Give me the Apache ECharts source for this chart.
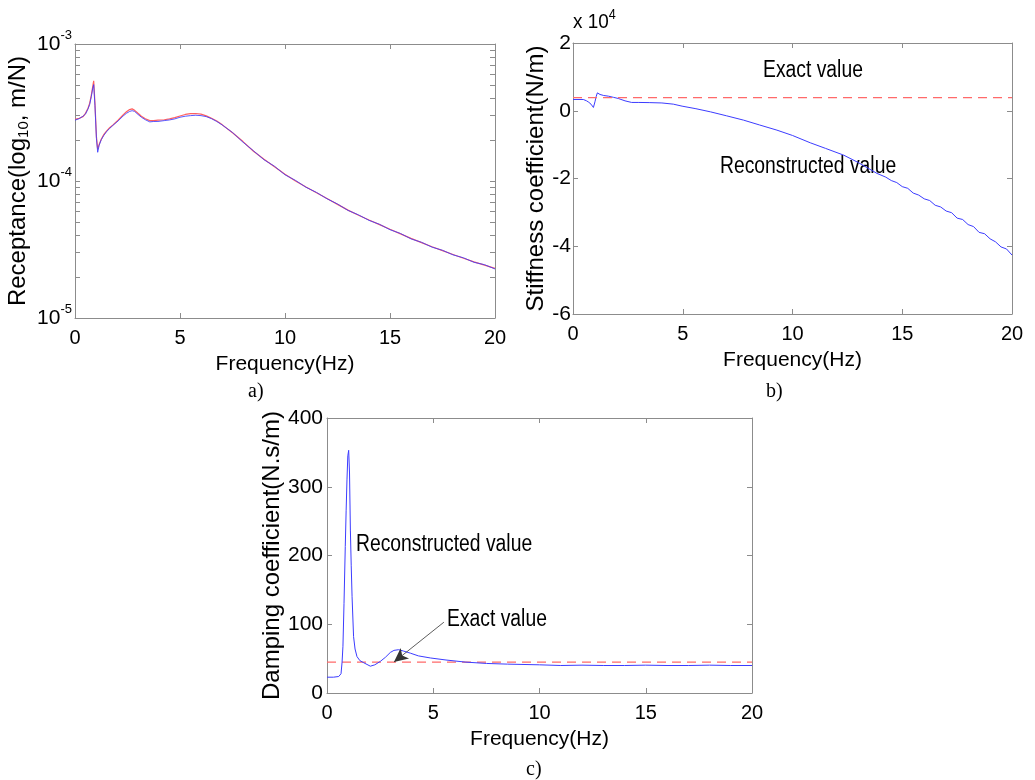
<!DOCTYPE html>
<html>
<head>
<meta charset="utf-8">
<script src="https://cdn.jsdelivr.net/npm/echarts@6/dist/echarts.min.js"></script>
<style>
html,body{margin:0;padding:0;background:#fff;}
#chart{width:1035px;height:780px;}
</style>
</head>
<body>
<div id="chart"></div>
<script>
// ---------- DATA ----------
// Panel a) Receptance (m/N) vs Frequency (Hz)
const freqA = [0,0.2,0.38,0.5,0.62,0.7,0.78,0.84,0.89,0.95,1.02,1.08,1.15,1.25,1.37,1.49,1.65,1.81,2.05,2.29,2.45,2.6,2.72,2.84,3.0,3.16,3.35,3.56,3.75,3.95,4.25,4.5,4.75,5.0,5.25,5.5,5.75,6.0,6.25,6.5,6.75,7.0,7.5,8.0,8.5,9.0,9.5,10,10.5,11,11.5,12,12.5,13,13.5,14,14.5,15,15.5,16,16.5,17,17.5,18,18.5,19,19.5,20];
const receptanceExact = [2.82e-4,2.87e-4,2.95e-4,3.12e-4,3.40e-4,3.70e-4,4.26e-4,4.85e-4,5.39e-4,3.70e-4,2.11e-4,1.70e-4,1.85e-4,2.02e-4,2.18e-4,2.30e-4,2.45e-4,2.57e-4,2.78e-4,3.04e-4,3.20e-4,3.32e-4,3.36e-4,3.28e-4,3.12e-4,2.97e-4,2.85e-4,2.76e-4,2.76e-4,2.78e-4,2.80e-4,2.84e-4,2.90e-4,2.98e-4,3.06e-4,3.10e-4,3.11e-4,3.08e-4,2.99e-4,2.87e-4,2.74e-4,2.58e-4,2.25e-4,1.94e-4,1.65e-4,1.44e-4,1.27e-4,1.12e-4,1.00e-4,9.05e-5,8.20e-5,7.45e-5,6.75e-5,6.13e-5,5.63e-5,5.19e-5,4.80e-5,4.44e-5,4.11e-5,3.81e-5,3.55e-5,3.31e-5,3.10e-5,2.91e-5,2.73e-5,2.57e-5,2.43e-5,2.30e-5];
const receptanceRecon = [2.78e-4,2.85e-4,2.97e-4,3.08e-4,3.36e-4,3.62e-4,4.15e-4,4.70e-4,5.05e-4,3.55e-4,2.05e-4,1.62e-4,1.82e-4,2.00e-4,2.15e-4,2.28e-4,2.42e-4,2.55e-4,2.74e-4,2.98e-4,3.12e-4,3.22e-4,3.26e-4,3.22e-4,3.06e-4,2.92e-4,2.80e-4,2.70e-4,2.72e-4,2.72e-4,2.76e-4,2.79e-4,2.84e-4,2.92e-4,2.97e-4,3.00e-4,3.02e-4,3.00e-4,2.95e-4,2.85e-4,2.72e-4,2.57e-4,2.26e-4,1.92e-4,1.66e-4,1.43e-4,1.28e-4,1.11e-4,1.01e-4,9.00e-5,8.25e-5,7.42e-5,6.79e-5,6.10e-5,5.66e-5,5.16e-5,4.83e-5,4.41e-5,4.14e-5,3.78e-5,3.57e-5,3.29e-5,3.12e-5,2.89e-5,2.75e-5,2.55e-5,2.45e-5,2.28e-5];

// Panel b) Stiffness coefficient (N/m)
const freqB = [0,0.47,0.62,0.72,0.82,0.93,1.0,1.06,1.11,1.23,1.4,1.61,1.85,2.06,2.37,2.67,3.0,3.5,4.05,4.57,4.97,5.6,6.26,7.0,7.77,8.5,9.29,10.0,10.81,11.5,12.33,13.0,13.85,14.25,14.5,14.75,15.0,15.25,15.5,15.75,16.0,16.25,16.5,16.75,17.0,17.25,17.5,17.75,18.0,18.25,18.5,18.75,19.0,19.25,19.5,19.75,20];
const stiffnessRecon = [3330,3330,2920,2500,1950,970,2630,4300,5280,4810,4500,4310,3950,3630,2920,2450,2450,2400,2300,1950,1360,600,-320,-1500,-2770,-4200,-5720,-7300,-9460,-11100,-13100,-15300,-18500,-19600,-20600,-21200,-22400,-22900,-24300,-24900,-26000,-26500,-27900,-28400,-29600,-30100,-31700,-32100,-33600,-34200,-35900,-36300,-37800,-38700,-40200,-40800,-42600];
const stiffnessExact = 3900;

// Panel c) Damping coefficient (N.s/m)
const freqC = [0,0.3,0.55,0.66,0.71,0.75,0.8,0.86,0.9,0.94,0.98,1.02,1.06,1.10,1.14,1.18,1.25,1.32,1.41,1.55,1.73,2.04,2.25,2.51,2.75,2.98,3.15,3.37,3.6,3.92,4.3,4.86,5.6,6.5,7.5,8.5,10,11,12,13,14,15,16,17,18,19,20];
const dampingRecon = [23,23,24,28,45,68,130,213,265,310,345,353,320,237,185,140,82,64,53,47,44,39,41,46,52,59,62,63,61,58,54,51,48,45,43,42,41,40,40.5,40,40,40.5,40,40,40.5,40,40];
const dampingExact = 45;

const xTicks = [0,5,10,15,20];
const yTicksB = [-6,-4,-2,0,2];      // x 10^4
const yTicksC = [0,100,200,300,400];

// ---------- STYLE ----------
const REG = "'Liberation Sans',Arial,sans-serif";
const SERIF = "'Liberation Serif','Times New Roman',serif";
const AX = '#8c8c8c';
const BLUE = '#3c3cff';
const RED = '#ff6060';

const logTicks = [];
for (let e = -5; e < -2; e++) for (let m = 1; m < 10; m++) { if (e === -3 && m > 1) break; logTicks.push(m * Math.pow(10, e)); }

const grids = [
  {left:75, top:44, width:420, height:274},
  {left:573, top:43, width:439, height:271},
  {left:327, top:418, width:425, height:275}
];

const xAxes = [], yAxes = [];
function addX(g, main) {
  xAxes.push({
    type:'value', gridIndex:g, min:xTicks[0], max:xTicks[xTicks.length-1], interval:xTicks[1]-xTicks[0],
    position: main ? 'bottom' : 'top',
    name: main ? 'Frequency(Hz)' : '', nameLocation:'middle', nameGap:36,
    nameTextStyle:{fontFamily:REG, fontSize:21, color:'#000'},
    axisLine:{show:true, onZero:false, lineStyle:{color:AX, width:1}},
    axisTick:{show:true, inside:true, length:5, lineStyle:{color:AX}},
    axisLabel:{show:main, fontFamily:REG, fontSize:20, color:'#000', margin:10},
    splitLine:{show:false}
  });
}
addX(0,true); addX(0,false); addX(1,true); addX(1,false); addX(2,true); addX(2,false);

// panel a y axes (log)
function addYA(main) {
  yAxes.push({
    type:'log', logBase:10, gridIndex:0, min:1e-5, max:1e-3, position: main ? 'left':'right',
    name: main ? '{n|Receptance(log}{s|10}{n|, m/N)}' : '', nameLocation:'middle', nameGap:44,
    nameTextStyle:{rich:{n:{fontFamily:REG, fontSize:24, color:'#000'}, s:{fontFamily:REG, fontSize:15, color:'#000', padding:[10,0,0,0]}}},
    axisLine:{show:true, onZero:false, lineStyle:{color:AX, width:1}},
    axisTick:{show:true, inside:true, length:5, lineStyle:{color:AX}, customValues:logTicks},
    axisLabel:{show:main, margin:3, customValues:[1e-5,1e-4,1e-3],
      formatter: v => '{b|10}{s|' + Math.round(Math.log10(v)) + '}',
      rich:{b:{fontFamily:REG, fontSize:21, color:'#000'}, s:{fontFamily:REG, fontSize:13, color:'#000', padding:[0,0,18,0]}}},
    splitLine:{show:false}, minorTick:{show:false}
  });
}
addYA(true); addYA(false);

function addYB(main) {
  yAxes.push({
    type:'value', gridIndex:1, min:yTicksB[0]*1e4, max:yTicksB[yTicksB.length-1]*1e4, interval:(yTicksB[1]-yTicksB[0])*1e4,
    position: main ? 'left':'right',
    name: main ? 'Stiffness coefficient(N/m)' : '', nameLocation:'middle', nameGap:16,
    nameTextStyle:{fontFamily:REG, fontSize:24, color:'#000'},
    axisLine:{show:true, onZero:false, lineStyle:{color:AX, width:1}},
    axisTick:{show:true, inside:true, length:5, lineStyle:{color:AX}},
    axisLabel:{show:main, margin:2, fontFamily:REG, fontSize:21, color:'#000', formatter: v => String(Math.round(v/1e4))},
    splitLine:{show:false}
  });
}
addYB(true); addYB(false);

function addYC(main) {
  yAxes.push({
    type:'value', gridIndex:2, min:yTicksC[0], max:yTicksC[yTicksC.length-1], interval:yTicksC[1]-yTicksC[0],
    position: main ? 'left':'right',
    name: main ? 'Damping coefficient(N.s/m)' : '', nameLocation:'middle', nameGap:33,
    nameTextStyle:{fontFamily:REG, fontSize:24, color:'#000'},
    axisLine:{show:true, onZero:false, lineStyle:{color:AX, width:1}},
    axisTick:{show:true, inside:true, length:5, lineStyle:{color:AX}},
    axisLabel:{show:main, margin:4, fontFamily:REG, fontSize:21, color:'#000'},
    splitLine:{show:false}
  });
}
addYC(true); addYC(false);

const zip = (xs, ys) => xs.map((x,i) => [x, ys[i]]);
const flat = (xs, v) => [[xs[0], v], [xs[xs.length-1], v]];

const base = {type:'line', showSymbol:false, symbol:'none', animation:false, silent:true};
const series = [
  Object.assign({}, base, {name:'Exact a', xAxisIndex:0, yAxisIndex:0, data:zip(freqA, receptanceExact), lineStyle:{color:RED, width:1.2}, z:2}),
  Object.assign({}, base, {name:'Recon a', xAxisIndex:0, yAxisIndex:0, data:zip(freqA, receptanceRecon), lineStyle:{color:BLUE, width:1, opacity:0.85}, z:3}),
  Object.assign({}, base, {name:'Exact b', xAxisIndex:2, yAxisIndex:2, data:flat(freqB, stiffnessExact), lineStyle:{color:'#ff6a6a', width:1.2, type:[9,6]}, z:4}),
  Object.assign({}, base, {name:'Recon b', xAxisIndex:2, yAxisIndex:2, data:zip(freqB, stiffnessRecon), lineStyle:{color:BLUE, width:1}, z:3}),
  Object.assign({}, base, {name:'Exact c', xAxisIndex:4, yAxisIndex:4, data:flat(freqC, dampingExact), lineStyle:{color:'#ff6a6a', width:1.2, type:[9,6]}, z:2,
    markLine:{silent:true, animation:false, symbol:['none','arrow'], symbolSize:[10,14], label:{show:false},
      lineStyle:{color:'#333', width:0.8, type:'solid'},
      data:[[{coord:[5.5,103]},{coord:[3.15,45]}]]}}),
  Object.assign({}, base, {name:'Recon c', xAxisIndex:4, yAxisIndex:4, data:zip(freqC, dampingRecon), lineStyle:{color:BLUE, width:1}, z:3})
];

const note = (x, y, text) => ({type:'text', x, y, scaleX:0.84, silent:true,
  style:{text, fontSize:23, fontFamily:REG, fill:'#000', verticalAlign:'top'}});
const tag = (x, y, text) => ({type:'text', x, y, silent:true,
  style:{text, fontSize:20, fontFamily:SERIF, fill:'#000', verticalAlign:'top'}});

const option = {
  backgroundColor:'#fff',
  animation:false,
  grid: grids,
  xAxis: xAxes,
  yAxis: yAxes,
  series: series,
  graphic: [
    note(763, 59, 'Exact value'),
    note(720, 155, 'Reconstructed value'),
    note(356, 533, 'Reconstructed value'),
    note(447, 608, 'Exact value'),
    {type:'text', x:573, y:8, scaleX:0.9, silent:true, style:{text:'{b|x 10}{s|4}', verticalAlign:'top', rich:{b:{fontFamily:REG, fontSize:21, fill:'#000'}, s:{fontFamily:REG, fontSize:14, fill:'#000', padding:[0,0,14,0]}}}},
    tag(248, 382, 'a)'),
    tag(766, 382, 'b)'),
    tag(526, 760, 'c)')
  ]
};
const chart = echarts.init(document.getElementById('chart'), null, {renderer:'canvas'});
chart.setOption(option);
</script>
</body>
</html>
